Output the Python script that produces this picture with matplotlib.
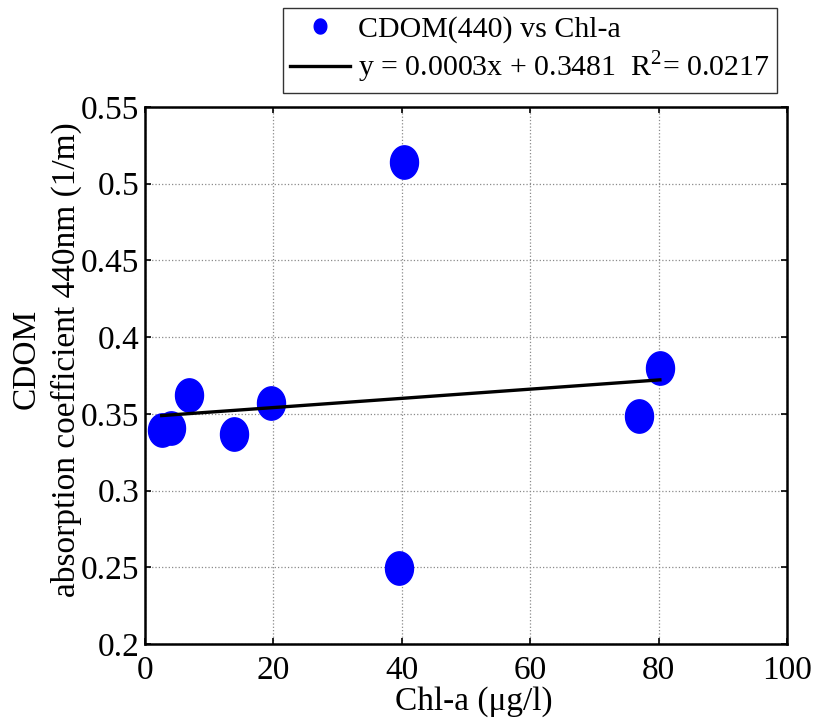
import numpy as np
import matplotlib
matplotlib.use("Agg")
import matplotlib.pyplot as plt
from matplotlib.path import Path

chl_a = [2.6, 4.1, 6.8, 13.8, 19.6, 39.5, 40.3, 76.9, 80.2]
cdom = [0.3395, 0.3406, 0.362, 0.337, 0.357, 0.2495, 0.514, 0.3488, 0.380]
slope = 0.0003
intercept = 0.3481
r2 = 0.0217
xticks = [0, 20, 40, 60, 80, 100]
yticks = [0.2, 0.25, 0.3, 0.35, 0.4, 0.45, 0.5, 0.55]
ytick_labels = ["0.2", "0.25", "0.3", "0.35", "0.4", "0.45", "0.5", "0.55"]

plt.rcParams['font.family'] = ['Liberation Serif', 'DejaVu Serif']
plt.rcParams['mathtext.fontset'] = 'custom'
plt.rcParams['mathtext.rm'] = 'Liberation Serif'

W, H = 814, 720
fig = plt.figure(figsize=(W / 100, H / 100), dpi=100)
ax = fig.add_axes([145 / W, 1 - 644 / H, (787 - 145) / W, (644 - 107) / H])

# ellipse marker (taller than wide)
t = np.linspace(0, 2 * np.pi, 60)
ell = Path(np.column_stack([0.84 * np.cos(t), np.sin(t)]), closed=True)

ax.plot(chl_a, cdom, linestyle='none', marker=ell, ms=24, color='#0000ff',
        markeredgecolor='#0000ff', label='CDOM(440) vs Chl-a', zorder=3)

xf = np.array([min(chl_a), max(chl_a)])
ax.plot(xf, slope * xf + intercept, color='black', lw=2.4, zorder=4,
        label='y = %.4fx + %.4f  R$^{2}$= %.4f' % (slope, intercept, r2))

ax.set_xlim(0, 100)
ax.set_ylim(0.2, 0.55)
ax.set_xticks(xticks)
ax.set_yticks(yticks)
ax.set_yticklabels(ytick_labels)
ax.grid(True, color='#8a8a8a', linestyle=':', linewidth=0.9)
ax.tick_params(direction='in', length=4, width=1.2, top=True, right=True,
               labelsize=24, pad=4)
ax.tick_params(axis='x', pad=8)
for s in ax.spines.values():
    s.set_linewidth(1.8)

fig.text(474 / W, 1 - 710 / H, 'Chl-a (\u03bcg/l)', ha='center',
         va='baseline', fontsize=24)
fig.text(26 / W, 1 - 359 / H, 'CDOM', rotation=90, ha='center', va='center',
         fontsize=24)
fig.text(66 / W, 1 - 360 / H, 'absorption coefficient 440nm (1/m)', rotation=90,
         ha='center', va='center', fontsize=24)

leg = fig.legend(loc='upper right', bbox_to_anchor=(777 / W, 1 - 8 / H),
                 fontsize=21.5, frameon=True, fancybox=False, markerscale=0.45,
                 handlelength=2.0, handletextpad=0.25, borderpad=0.25,
                 labelspacing=0.2, borderaxespad=0)
leg.get_frame().set_edgecolor('black')
leg.get_frame().set_linewidth(1.0)

fig.savefig('out.png', dpi=100)
